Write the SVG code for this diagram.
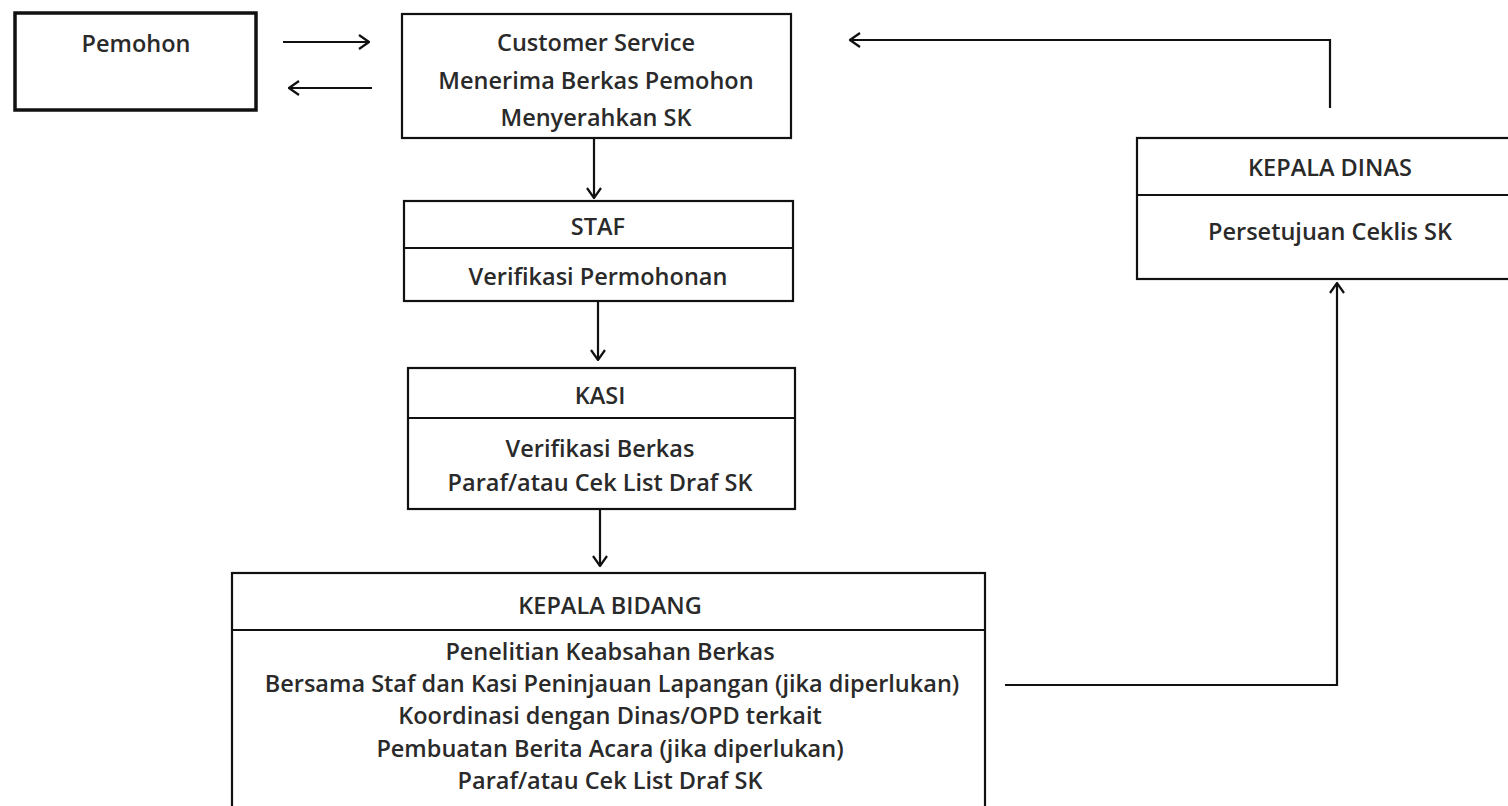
<svg xmlns="http://www.w3.org/2000/svg" width="1508" height="806" viewBox="0 0 1508 806">
<defs>
<style>
.box{fill:#fff;stroke:#111;stroke-width:2.2}
.thick{stroke-width:3.5}
.div{stroke:#111;stroke-width:2.2}
.t{font-family:"Open Sans","Liberation Sans",sans-serif;font-size:23.5px;font-weight:600;fill:#2a2a2a;text-anchor:middle;dominant-baseline:central}
.c{fill:none;stroke:#111;stroke-width:2.2}
</style>
<marker id="ah" viewBox="0 0 12 16" refX="11" refY="8" markerWidth="12" markerHeight="16" markerUnits="userSpaceOnUse" orient="auto">
<path d="M1,1 L11,8 L1,15" fill="none" stroke="#111" stroke-width="2.2"/>
</marker>
</defs>
<rect width="1508" height="806" fill="#fff"/>
<g id="pemohon">
<rect class="box thick" x="15" y="13" width="241" height="97"/>
<text class="t" x="136" y="43">Pemohon</text>
</g>
<g id="customer-service">
<rect class="box" x="402" y="14" width="389" height="124"/>
<text class="t" x="596" y="42">Customer Service</text>
<text class="t" x="596" y="80">Menerima Berkas Pemohon</text>
<text class="t" x="596" y="117">Menyerahkan SK</text>
</g>
<g id="staf">
<rect class="box" x="404" y="201" width="389" height="100"/>
<line class="div" x1="404" y1="248" x2="793" y2="248"/>
<text class="t" x="598" y="226">STAF</text>
<text class="t" x="598" y="276">Verifikasi Permohonan</text>
</g>
<g id="kasi">
<rect class="box" x="408" y="368" width="387" height="141"/>
<line class="div" x1="408" y1="418" x2="795" y2="418"/>
<text class="t" x="600" y="395">KASI</text>
<text class="t" x="600" y="448">Verifikasi Berkas</text>
<text class="t" x="600" y="482">Paraf/atau Cek List Draf SK</text>
</g>
<g id="kepala-bidang">
<rect class="box" x="232" y="573" width="753" height="245"/>
<line class="div" x1="232" y1="630" x2="985" y2="630"/>
<text class="t" x="610" y="605">KEPALA BIDANG</text>
<text class="t" x="610" y="651">Penelitian Keabsahan Berkas</text>
<text class="t" x="612" y="683">Bersama Staf dan Kasi Peninjauan Lapangan (jika diperlukan)</text>
<text class="t" x="610" y="715">Koordinasi dengan Dinas/OPD terkait</text>
<text class="t" x="610" y="748">Pembuatan Berita Acara (jika diperlukan)</text>
<text class="t" x="610" y="780">Paraf/atau Cek List Draf SK</text>
</g>
<g id="kepala-dinas">
<rect class="box" x="1137" y="138" width="380" height="141"/>
<line class="div" x1="1137" y1="195" x2="1508" y2="195"/>
<text class="t" x="1330" y="167">KEPALA DINAS</text>
<text class="t" x="1330" y="231">Persetujuan Ceklis SK</text>
</g>
<g id="connectors">
<line class="c" x1="283" y1="42" x2="369" y2="42" marker-end="url(#ah)"/>
<line class="c" x1="372" y1="88" x2="289" y2="88" marker-end="url(#ah)"/>
<line class="c" x1="594" y1="138" x2="594" y2="198" marker-end="url(#ah)"/>
<line class="c" x1="598" y1="301" x2="598" y2="360" marker-end="url(#ah)"/>
<line class="c" x1="600" y1="509" x2="600" y2="566" marker-end="url(#ah)"/>
<polyline class="c" points="1005,685 1337,685 1337,283" marker-end="url(#ah)"/>
<polyline class="c" points="1330,108 1330,40 850,40" marker-end="url(#ah)"/>
</g>
</svg>
